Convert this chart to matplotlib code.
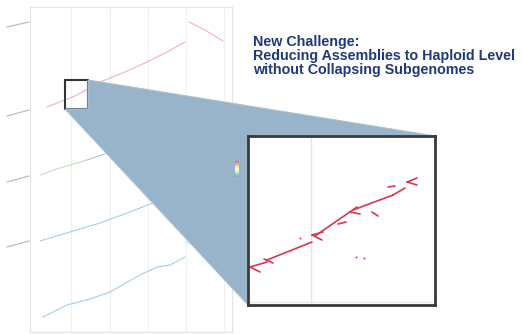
import numpy as np
import matplotlib
matplotlib.use('Agg')
import matplotlib.pyplot as plt
from matplotlib.patches import Polygon, Rectangle
from matplotlib.cm import ScalarMappable
from matplotlib.colors import Normalize

plt.rcParams['font.family'] = ['Liberation Sans', 'DejaVu Sans']

W, H = 523, 334
OUT_FILE = 'out.png'

# ---- dotplot alignment blocks (query pos, target pos) ----
red_x = [17, 45, 70, 95, 117, 135, 155]
red_y = [225, 236, 250, 260, 270, 279, 290]
red2_x = [159, 175, 193]
red2_y = [310, 302, 291]

green_x = [10, 30, 57]
green_y = [157, 164, 172]
teal_x = [57, 80, 110, 135, 155]
teal_y = [172, 180, 192, 200, 207]
teal2_x = [157, 175, 190]
teal2_y = [222, 216, 210]

blue_x = [10, 40, 70, 100, 130, 155]
blue_y = [91, 100, 109, 120, 132, 142]
blue2_x = [158, 175, 192]
blue2_y = [157, 154, 152]

lblue_x = [13, 37, 60, 80, 110, 127, 140, 155]
lblue_y = [15, 27, 33, 40, 57, 65, 67, 75]
lblue2_x = [155, 170, 190]
lblue2_y = [90, 86, 82]

# neighbouring panels, partly cut off on the left
stub_y0 = [305, 216, 150, 85]
stub_y1 = [310, 222, 156, 91]

grid_x = [41, 80, 118, 156, 194]

# zoom window on the red block
zoom_x = (35, 58)
zoom_y = (223, 252)

# zoomed alignment segments: x0, y0, x1, y1
seg_x0 = [2, 2, 16, 19, 64, 64, 67, 90, 102, 105, 145, 140, 159, 159, 124]
seg_y0 = [38, 38, 46, 45, 70, 70, 69, 81, 93, 95, 110, 118, 123, 123, 93]
seg_x1 = [12, 19, 25, 64, 75, 74, 109, 98, 112, 145, 157, 147, 169, 169, 130]
seg_y1 = [33, 43, 42, 63, 73, 65, 98, 83, 91, 110, 117, 119, 127, 120, 89]
dot_x = [52, 108, 116]
dot_y = [67, 48, 47]

TITLE = 'New Challenge:\nReducing Assemblies to Haploid Level\nwithout Collapsing Subgenomes'


def fig_box(px0, py0, px1, py1):
    return [px0 / W, 1 - py1 / H, (px1 - px0) / W, (py1 - py0) / H]


fig = plt.figure(figsize=(W / 100, H / 100), dpi=100)

# ---- main dotplot ----
ax = fig.add_axes(fig_box(30, 7, 232, 332), zorder=0)
ax.set_xlim(0, 202)
ax.set_ylim(0, 325)
for gx in grid_x:
    ax.axvline(gx, color='#f0f0f0', lw=0.8, zorder=0)
for s in ax.spines.values():
    s.set_color('#e4e4e4')
ax.set_xticks([])
ax.set_yticks([])

kw = dict(lw=0.7, solid_capstyle='round')
ax.plot(red_x, red_y, color='#e98aa0', alpha=0.75, **kw)
ax.plot(red2_x, red2_y, color='#e98aa0', alpha=0.75, **kw)
ax.plot(green_x, green_y, color='#a6d8a0', alpha=0.8, **kw)
ax.plot(teal_x, teal_y, color='#7fa9bb', alpha=0.7, **kw)
ax.plot(teal2_x, teal2_y, color='#7fa9bb', alpha=0.5, **kw)
ax.plot(blue_x, blue_y, color='#8bbcdc', alpha=0.85, **kw)
ax.plot(blue2_x, blue2_y, color='#8bbcdc', alpha=0.5, **kw)
ax.plot(lblue_x, lblue_y, color='#a4cfe9', alpha=0.9, lw=0.9)
ax.plot(lblue2_x, lblue2_y, color='#a4cfe9', alpha=0.5, **kw)

for y0, y1 in zip(stub_y0, stub_y1):
    ax.plot([-23, -1], [y0, y1], color='#bdbdbd', lw=0.9, clip_on=False)

ax.add_patch(Rectangle((zoom_x[0], zoom_y[0]), zoom_x[1] - zoom_x[0],
                       zoom_y[1] - zoom_y[0], fill=False,
                       edgecolor='#333333', lw=1.5, zorder=5))

# ---- zoomed inset ----
ins = fig.add_axes(fig_box(248, 136, 435, 305), zorder=2)
ins.set_xlim(0, 187)
ins.set_ylim(0, 169)
ins.axvline(63, color='#e6e6e6', lw=1.0)
ins.axhline(3, color='#e6e6e6', lw=1.0)
for x0, y0, x1, y1 in zip(seg_x0, seg_y0, seg_x1, seg_y1):
    ins.plot([x0, x1], [y0, y1], color='#d93650', lw=1.2,
             solid_capstyle='round')
ins.scatter(dot_x, dot_y, s=2, color='#d93650', lw=0)
ins.set_xticks([])
ins.set_yticks([])
for s in ins.spines.values():
    s.set_color('#3a3a3a')
    s.set_linewidth(2.0)

# ---- connector from the zoom window to the inset ----
to_fig = fig.transFigure.inverted()
bl = to_fig.transform(ax.transData.transform((zoom_x[0], zoom_y[0])))
br = to_fig.transform(ax.transData.transform((zoom_x[1], zoom_y[0])))
tr = to_fig.transform(ax.transData.transform((zoom_x[1], zoom_y[1])))
ib = ins.get_position()
verts = [bl, br, tr, (ib.x1, ib.y1), (ib.x1, ib.y0), (ib.x0, ib.y0)]
fig.patches.append(Polygon(verts, closed=True, transform=fig.transFigure,
                           facecolor='#98b4ca', edgecolor='#a9c0d2',
                           lw=0.8, zorder=1))

# tiny identity colour key
cax = fig.add_axes(fig_box(235, 161, 239, 177), zorder=1.5)
cb = fig.colorbar(ScalarMappable(Normalize(0, 100), 'Spectral_r'), cax=cax,
                  alpha=0.6)
cb.set_ticks([])
cb.outline.set_visible(False)

fig.text(253 / W, 1 - 35 / H, TITLE, color='#1f3a7a', fontsize=10.3,
         fontweight='bold', va='top', ha='left', linespacing=0.98)

fig.savefig(OUT_FILE, dpi=100)
print(f'Saved: {OUT_FILE}')
